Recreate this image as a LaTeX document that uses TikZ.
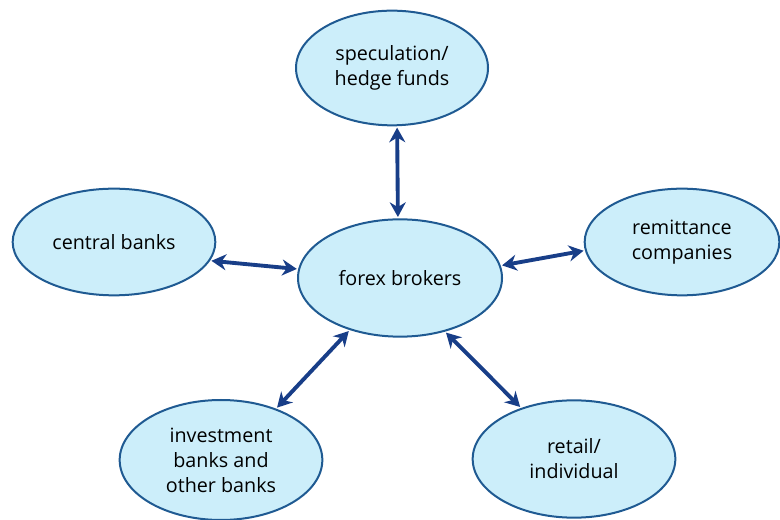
\documentclass[tikz,border=0pt]{standalone}
\usepackage{fontspec}
\setmainfont{Open Sans}
\usepackage{xcolor}
\usetikzlibrary{arrows.meta,shapes.geometric}
\definecolor{fxFill}{HTML}{CCEEFA}
\definecolor{fxEdge}{HTML}{1F5A92}
\definecolor{fxArrow}{HTML}{183E88}

\begin{document}
\begin{tikzpicture}[x=0.75pt,y=0.75pt,
  font=\fontsize{14.8}{18.8}\selectfont,
  party/.style={ellipse,draw=fxEdge,fill=fxFill,line width=1.5pt,
    minimum width=150pt,minimum height=84pt,inner sep=1pt,align=center},
  flow/.style={fxArrow,line width=2.9pt,{Stealth[length=11pt,width=12pt]}-{Stealth[length=11pt,width=12pt]},
    shorten <=1pt,shorten >=1pt}]
  \useasboundingbox (0,0) rectangle (780,520);
% --- market participants ---
  \node[party,minimum width=144pt,minimum height=86pt] (spec) at (392,452) {speculation/\\hedge funds};
  \node[party,minimum width=152pt,minimum height=80pt] (central) at (114,278) {central banks};
  \node[party,minimum width=153pt,minimum height=88pt] (forex) at (400,242) {forex brokers};
  \node[party,minimum width=146pt,minimum height=80pt] (remit) at (682,278) {remittance\\companies};
  \node[party,minimum width=152pt,minimum height=90pt] (invest) at (221,60) {investment\\banks and\\other banks};
  \node[party,minimum width=152pt,minimum height=88pt] (retail) at (574,61) {retail/\\individual};
% --- two-way links to the brokers ---
  \draw[flow] (spec.-85) -- (forex.92);
  \draw[flow] (central.-11) -- (forex.175);
  \draw[flow] (forex.7) -- (remit.185);
  \draw[flow] (forex.226) -- (invest.43);
  \draw[flow] (forex.-50) -- (retail.136);
\end{tikzpicture}
\end{document}
